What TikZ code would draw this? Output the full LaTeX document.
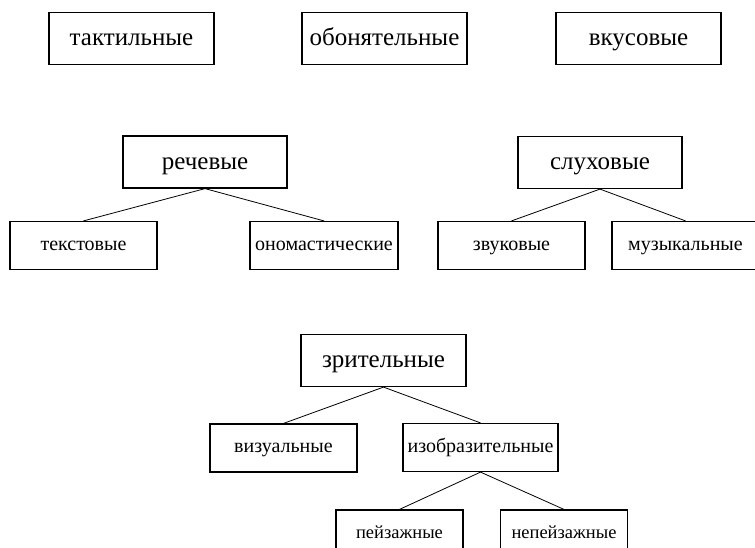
\documentclass[tikz,border=0pt]{standalone}
\usepackage{fontspec}
\setmainfont{Liberation Serif}
\usetikzlibrary{positioning}
\tikzset{
  line/.style={draw=black, line width=0.8pt},
  bigbox/.style={draw=black, line width=1.2pt, rectangle, align=center, font=\fontsize{25}{28}\selectfont, minimum width=165pt, minimum height=52pt, inner sep=1pt, text height=18pt, text depth=4pt},
  smallbox/.style={draw=black, line width=1.2pt, rectangle, align=center, font=\fontsize{20}{23}\selectfont, minimum width=147pt, minimum height=48pt, inner sep=1pt, text height=13pt, text depth=4pt},
  tinybox/.style={smallbox, font=\fontsize{18.5}{21}\selectfont, minimum width=127pt}
}
\begin{document}
\begin{tikzpicture}[x=1pt, y=-1pt]
  \useasboundingbox (0,0) rectangle (755,547);
  \clip (0,0) rectangle (755,547);

  % top row
  \node [bigbox] (takt) at (131.5,38.5) {тактильные};
  \node [bigbox] (obon) at (384.5,38.5) {обонятельные};
  \node [bigbox] (vkus) at (638.5,38.5) {вкусовые};

  % speech
  \node [bigbox, minimum width=164pt] (rech) at (205,162) {речевые};
  \node [smallbox] (tekst) at (83.5,245.5) {текстовые};
  \node [smallbox, minimum width=148pt] (onom) at (324,245.5) {ономастические};

  % hearing
  \node [bigbox, minimum width=164pt] (sluh) at (600,162.5) {слуховые};
  \node [smallbox] (zvuk) at (511.5,245.5) {звуковые};
  \node [smallbox] (muz) at (685.5,245.5) {музыкальные};

  % sight
  \node [bigbox] (zrit) at (383.5,360.5) {зрительные};
  \node [smallbox] (viz) at (283.5,448) {визуальные};
  \node [smallbox, minimum width=155pt] (izob) at (480.5,447.5) {изобразительные};
  \node [tinybox] (peiz) at (399.5,534) {пейзажные};
  \node [tinybox] (nepeiz) at (564,534) {непейзажные};

  \draw [line] (rech.south) -- (tekst.north);
  \draw [line] (rech.south) -- (onom.north);
  \draw [line] (sluh.south) -- (zvuk.north);
  \draw [line] (sluh.south) -- (muz.north);
  \draw [line] (zrit.south) -- (viz.north);
  \draw [line] (zrit.south) -- (izob.north);
  \draw [line] (izob.south) -- (peiz.north);
  \draw [line] (izob.south) -- (nepeiz.north);
\end{tikzpicture}
\end{document}
